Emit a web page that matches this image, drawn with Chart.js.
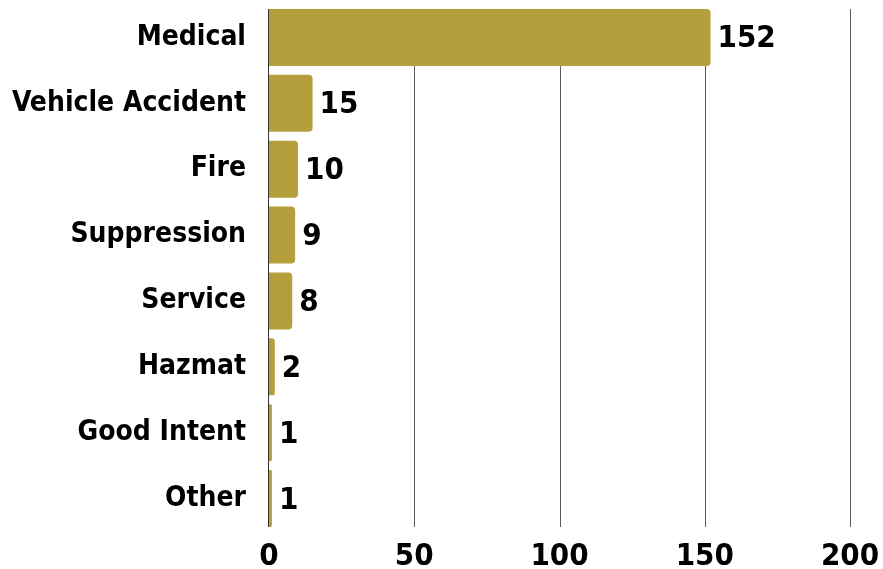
<!DOCTYPE html>
<html lang="en">
<head>
    <meta charset="UTF-8">
    <title>Incidents by Type</title>
    <script src="https://cdn.jsdelivr.net/npm/chart.js"></script>
    <style>
        html, body { margin: 0; padding: 0; background: #fff; }
        #wrap { width: 883px; height: 569px; }
    </style>
</head>
<body>
    <div id="wrap"><canvas id="incidentChart"></canvas></div>

    <script>
        const categories = ['Medical', 'Vehicle Accident', 'Fire', 'Suppression', 'Service', 'Hazmat', 'Good Intent', 'Other'];
        const counts = [152, 15, 10, 9, 8, 2, 1, 1];
        const xTicks = [0, 50, 100, 150, 200];

        const fontFamily = '"DejaVu Sans Condensed", "DejaVu Sans", sans-serif';
        const gridInset = 4.5; // grid stops at the outer bar edges

        // vertical grid lines + left axis line, drawn under the bars
        const gridLines = {
            id: 'gridLines',
            beforeDatasetsDraw(chart) {
                const ctx = chart.ctx;
                const area = chart.chartArea;
                const x = chart.scales.x;
                const top = area.top + gridInset;
                const bottom = area.bottom - gridInset;
                ctx.save();
                ctx.lineWidth = 1;
                xTicks.forEach(v => {
                    let px = Math.round(x.getPixelForValue(v)) + 0.5;
                    if (v === 0) px -= 1; // axis line sits just left of the bars
                    ctx.strokeStyle = v === 0 ? '#333' : '#5a5a5a';
                    ctx.beginPath();
                    ctx.moveTo(px, top);
                    ctx.lineTo(px, bottom);
                    ctx.stroke();
                });
                ctx.restore();
            }
        };

        // draws the value at the end of each bar
        const valueLabels = {
            id: 'valueLabels',
            afterDatasetsDraw(chart) {
                const ctx = chart.ctx;
                const meta = chart.getDatasetMeta(0);
                ctx.save();
                ctx.font = 'bold 31px ' + fontFamily;
                ctx.fillStyle = '#000';
                ctx.textAlign = 'left';
                ctx.textBaseline = 'middle';
                meta.data.forEach((bar, i) => {
                    ctx.fillText(String(counts[i]), bar.x + 7, bar.y + 2);
                });
                ctx.restore();
            }
        };

        new Chart(document.getElementById('incidentChart'), {
            type: 'bar',
            data: {
                labels: categories,
                datasets: [{
                    data: counts,
                    backgroundColor: '#b59e3c',
                    borderRadius: 4,
                    borderSkipped: 'start',
                    categoryPercentage: 1,
                    barPercentage: 0.865
                }]
            },
            options: {
                indexAxis: 'y',
                responsive: true,
                maintainAspectRatio: false,
                animation: false,
                layout: { autoPadding: false, padding: { top: 4.5, right: 33, left: 0, bottom: 0 } },
                plugins: {
                    legend: { display: false },
                    tooltip: { enabled: false }
                },
                scales: {
                    x: {
                        min: 0,
                        max: 200,
                        afterBuildTicks(scale) {
                            scale.ticks = xTicks.map(v => ({ value: v }));
                        },
                        afterFit(scale) {
                            scale.height = 37.5;
                            scale.paddingLeft = 0;
                            scale.paddingRight = 0;
                            scale.paddingTop = 0;
                            scale.paddingBottom = 0;
                        },
                        grid: { display: false, drawTicks: false },
                        border: { display: false },
                        ticks: {
                            padding: 6.5,
                            color: '#000',
                            font: { family: fontFamily, size: 31, weight: 'bold' }
                        }
                    },
                    y: {
                        afterFit(scale) {
                            scale.width = 269;
                            scale.paddingLeft = 0;
                            scale.paddingRight = 0;
                            scale.paddingTop = 0;
                            scale.paddingBottom = 0;
                        },
                        grid: { display: false, drawTicks: false },
                        border: { display: false },
                        ticks: {
                            padding: 23,
                            color: '#000',
                            font: { family: fontFamily, size: 28, weight: 'bold' }
                        }
                    }
                }
            },
            plugins: [gridLines, valueLabels]
        });
    </script>
</body>
</html>
